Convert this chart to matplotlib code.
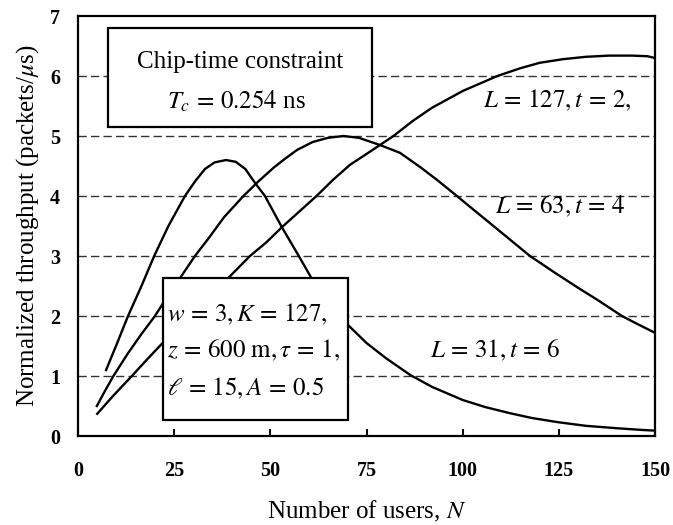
import matplotlib
matplotlib.use('Agg')
import matplotlib.pyplot as plt
from matplotlib.patches import Rectangle

# L=31, t=6
n_31 = [7.3, 10, 13, 16.5, 19.8, 23.5, 27.8, 30.5, 33, 35.5, 38.5, 41, 43.5, 46, 48.6, 53, 57.4, 60.7,
        65, 70.2, 75, 80, 86.3, 92, 100, 106, 112.3, 118, 124.8, 132, 140, 146.9, 150]
thr_31 = [1.1, 1.52, 2.0, 2.5, 3.0, 3.5, 4.0, 4.25, 4.45, 4.56, 4.6, 4.57, 4.45, 4.22, 4.0, 3.48, 3.0, 2.63,
          2.25, 1.85, 1.55, 1.3, 1.02, 0.82, 0.6, 0.48, 0.38, 0.3, 0.23, 0.17, 0.13, 0.1, 0.09]

# L=63, t=4
n_63 = [4.9, 7, 9.2, 13, 16.5, 20, 22, 26.5, 30.4, 34, 38, 43, 47, 51, 54, 57, 61, 65, 69, 73, 78.5,
        83.7, 89, 93.3, 98.5, 101.9, 108, 117.5, 124, 130, 135, 141.4, 145, 150]
thr_63 = [0.5, 0.75, 1.0, 1.38, 1.7, 2.0, 2.2, 2.63, 3.0, 3.3, 3.65, 4.0, 4.25, 4.48, 4.63, 4.77, 4.9, 4.97,
          5.0, 4.97, 4.85, 4.72, 4.48, 4.27, 4.0, 3.82, 3.5, 3.0, 2.72, 2.47, 2.27, 2.0, 1.88, 1.72]

# L=127, t=2
n_127 = [5, 9, 14, 18, 22, 26, 30, 34, 39, 44.7, 49, 53, 57.5, 62, 66.3, 70.7, 74.5, 78.5, 82, 87, 92,
         100, 109, 115, 120, 126, 132, 138, 144, 148, 150]
thr_127 = [0.37, 0.66, 1.0, 1.28, 1.55, 1.8, 2.05, 2.3, 2.63, 3.0, 3.23, 3.48, 3.74, 4.0, 4.27, 4.52, 4.68,
           4.85, 5.0, 5.25, 5.47, 5.75, 6.0, 6.13, 6.22, 6.28, 6.32, 6.34, 6.34, 6.33, 6.3]

xticks = [0, 25, 50, 75, 100, 125, 150]
yticks = [0, 1, 2, 3, 4, 5, 6, 7]

plt.rcParams['font.family'] = ['Liberation Serif', 'DejaVu Serif']
plt.rcParams['mathtext.fontset'] = 'stix'

fs = 18

fig = plt.figure(figsize=(6.73, 5.25), dpi=100)
ax = fig.add_axes([0.1159, 0.1695, 0.8574, 0.8])

ax.set_xlim(0, 150)
ax.set_ylim(0, 7)
for y in yticks[1:-1]:
    ax.axhline(y, color='#333333', lw=1.0, dashes=(6, 3), zorder=1)

ax.plot(n_31, thr_31, color='black', lw=1.7, zorder=2)
ax.plot(n_63, thr_63, color='black', lw=1.7, zorder=2)
ax.plot(n_127, thr_127, color='black', lw=1.7, zorder=2)

# text boxes
ax.add_patch(Rectangle((7.8, 5.15), 68.6, 1.65, facecolor='white', edgecolor='black', lw=1.6, zorder=3))
ax.text(42.1, 6.23, 'Chip-time constraint', ha='center', va='center', fontsize=fs, zorder=4)
ax.text(41.3, 5.57, r'$T_c\,=\,0.254$ ns', ha='center', va='center', fontsize=fs, zorder=4)

ax.add_patch(Rectangle((22.1, 0.27), 48.1, 2.36, facecolor='white', edgecolor='black', lw=1.6, zorder=3))
ax.text(23.2, 2.02, r'$w\,=\,3, K\,=\,127,$', ha='left', va='center', fontsize=fs, zorder=4)
ax.text(23.2, 1.43, r'$z\,=\,600\ \mathrm{m}, \tau\,=\,1,$', ha='left', va='center', fontsize=fs, zorder=4)
ax.text(23.2, 0.80, r'$\ell\,=\,15, A\,=\,0.5$', ha='left', va='center', fontsize=fs, zorder=4)

ax.text(105.3, 5.6, r'$L\,=\,127, t\,=\,2,$', ha='left', va='center', fontsize=fs, zorder=4)
ax.text(108.4, 3.83, r'$L\,=\,63, t\,=\,4$', ha='left', va='center', fontsize=fs, zorder=4)
ax.text(91.5, 1.43, r'$L\,=\,31, t\,=\,6$', ha='left', va='center', fontsize=fs, zorder=4)

ax.set_xticks(xticks)
ax.set_yticks(yticks)
ax.tick_params(axis='x', direction='in', length=5, width=1.5, pad=18, labelsize=14.5)
ax.tick_params(axis='y', direction='in', length=0, pad=13, labelsize=14.5)
for lab in ax.get_xticklabels() + ax.get_yticklabels():
    lab.set_fontweight('bold')
for s in ax.spines.values():
    s.set_linewidth(1.6)

ax.set_xlabel('Number of users, $N$', fontsize=fs, labelpad=13)
ax.set_ylabel(r'Normalized throughput (packets/$\mu$s)', fontsize=fs, labelpad=6)

fig.savefig('out.png', dpi=100)
